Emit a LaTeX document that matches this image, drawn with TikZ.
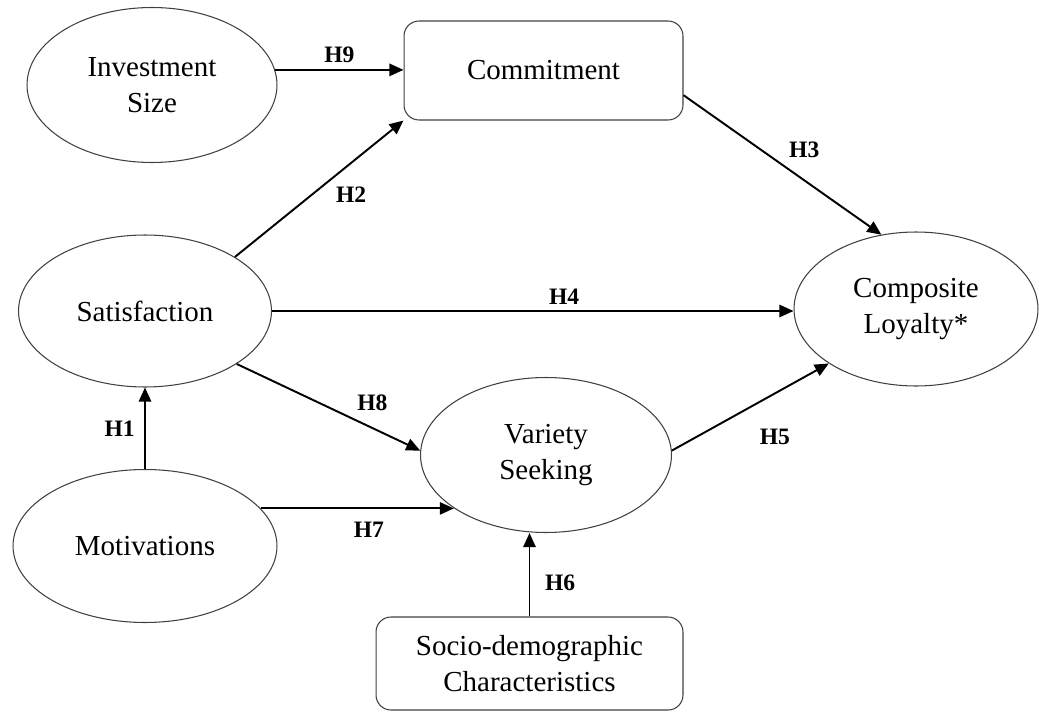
\documentclass[tikz,border=0pt]{standalone}
\usepackage{fontspec}
\setmainfont{Liberation Serif}
\usetikzlibrary{shapes.geometric,arrows.meta}

\tikzset{
  latent/.style={ellipse,draw=black!75,line width=0.6pt,inner sep=0pt,align=center,font=\fontsize{16.5}{20.5}\selectfont},
  observed/.style={rectangle,rounded corners=8.5pt,draw=black!75,line width=0.6pt,inner sep=0pt,align=center,font=\fontsize{16.5}{20.5}\selectfont},
  hyp/.style={-{Triangle[length=8pt,width=7pt]},line width=1.1pt},
  hlabel/.style={font=\fontsize{13.4}{16}\selectfont\bfseries}
}

\begin{document}
\begin{tikzpicture}[x=0.02cm,y=-0.02cm]
    \useasboundingbox (0,0) rectangle (1039,720);
    \node[latent,minimum width=5cm,minimum height=3.1cm] (inv) at (152,85) {Investment\\Size};
    \node[observed,minimum width=5.58cm,minimum height=1.98cm] (com) at (543.5,70.5) {Commitment};
    \node[latent,minimum width=5.06cm,minimum height=3.04cm] (sat) at (145,311) {Satisfaction};
    \node[latent,minimum width=5.28cm,minimum height=3.06cm] (mot) at (145,546) {Motivations};
    \node[latent,minimum width=5.02cm,minimum height=3.1cm] (var) at (546,455) {Variety\\Seeking};
    \node[latent,minimum width=4.88cm,minimum height=3.08cm] (loy) at (916,309) {Composite\\Loyalty*};
    \node[observed,minimum width=6.14cm,minimum height=1.86cm] (soc) at (529.5,663.5) {Socio-demographic\\Characteristics};
    \draw[hyp] (inv.7) -- (inv.7 -| com.west) node[hlabel,midway,above] {H9};
    \draw[hyp] (sat.31) -- (com.south west) node[hlabel,pos=0.56,below right] {H2};
    \draw[hyp] (com.-10) -- (loy.115) node[hlabel,midway,above right] {H3};
    \draw[hyp] (sat.east) -- (sat.east -| loy.west) node[hlabel,pos=0.56,above] {H4};
    \draw[hyp] (sat.-30) -- (var.178) node[hlabel,pos=0.62,above right] {H8};
    \draw[hyp] (mot.north) -- (sat.south) node[hlabel,midway,left=2pt] {H1};
    \draw[hyp] (mot.18) -- (mot.18 -| var.210) node[hlabel,pos=0.56,below=4pt] {H7};
    \draw[hyp] (soc.north) -- (soc.north |- var.south) node[hlabel,pos=0.4,right=5pt] {H6};
    \draw[hyp] (var.2) -- (loy.212) node[hlabel,pos=0.45,below right=6pt] {H5};
  \end{tikzpicture}
\end{document}
